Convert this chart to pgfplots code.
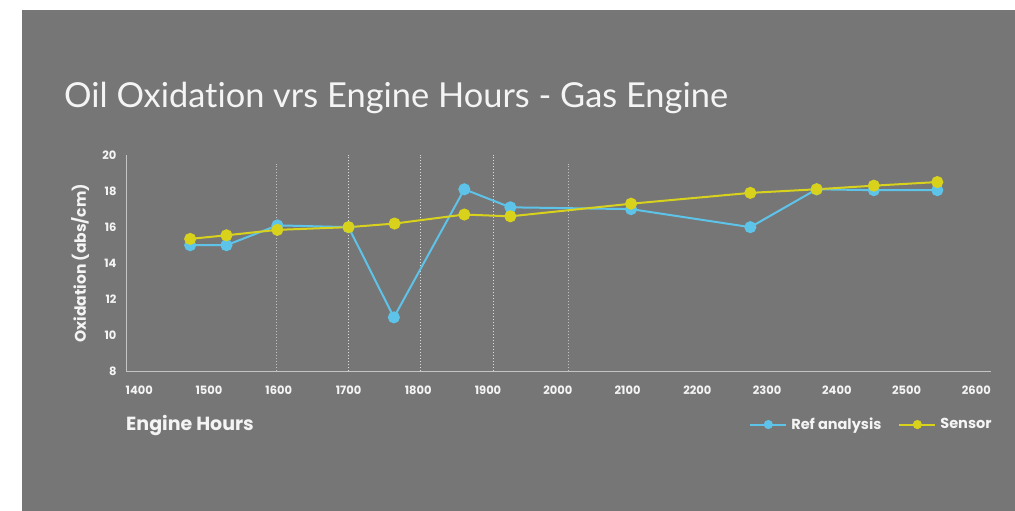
\documentclass[border=0pt]{standalone}
\usepackage{pgfplots}
\pgfplotsset{compat=1.18}
\usepackage{fontspec}
\setmainfont{Lato}[Ligatures=NoCommon]
\newfontfamily\tickfont{Poppins}
\definecolor{bg}{HTML}{767676}
\definecolor{refblue}{HTML}{5EC3E8}
\definecolor{sensyel}{HTML}{D8D21C}
\definecolor{txt}{HTML}{F4F4F4}
\definecolor{axl}{HTML}{C4C4C4}

\begin{document}
\begin{tikzpicture}
  \fill[white] (0pt,0pt) rectangle (1015pt,511pt);
  \fill[bg] (22pt,0pt) rectangle (1015pt,501pt);
  \node[anchor=base west, text=txt, inner sep=0pt, font=\fontsize{34.4}{40}\selectfont] at (64pt,403pt) {Oil Oxidation vrs Engine Hours - Gas Engine};

  \begin{axis}[
    at={(126pt,139.5pt)}, anchor=south west,
    scale only axis, width=865pt, height=216.5pt,
    xmin=1381, xmax=2621, ymin=8, ymax=20,
    xtick={1400,1500,...,2600}, ytick={8,10,...,20},
    axis x line*=bottom, axis y line*=left,
    axis line style={axl, line width=1pt, -},
    major tick length=0pt,
    /pgf/number format/assume math mode=true,
    /pgf/number format/set thousands separator={},
    tick label style={text=txt, font=\tickfont\bfseries\fontsize{11.5}{13}\selectfont},
    xticklabel style={yshift=-11pt},
    yticklabel style={xshift=-6pt},
    ylabel={Oxidation (abs/cm)},
    ylabel style={at={(axis description cs:-0.053,0.5)}, anchor=center, text=txt,
      font=\tickfont\bfseries\fontsize{15.5}{17}\selectfont},
    xlabel={Engine Hours},
    xlabel style={at={(axis description cs:0,-0.25)}, anchor=west, inner sep=0pt, text=txt,
      font=\tickfont\bfseries\fontsize{19}{22}\selectfont},
    legend style={at={(axis description cs:1.002,-0.245)}, anchor=east, draw=none, fill=none,
      text=txt, font=\tickfont\bfseries\fontsize{14.5}{16}\selectfont,
      legend columns=2, column sep=3pt, inner xsep=0pt, nodes={inner xsep=1pt},
      /tikz/every even column/.append style={column sep=16pt}},
    legend image code/.code={\draw[mark repeat=2,mark phase=2,mark size=3.5pt,#1] plot coordinates {(0pt,0pt) (18pt,0pt) (36pt,0pt)};},
    clip=false,
  ]
    \draw[txt!60!bg, dotted, line width=1pt] (axis cs:1597,8) -- (axis cs:1597,19.5);
    \draw[txt!80!bg, dotted, line width=1pt] (axis cs:1700,8) -- (axis cs:1700,20);
    \draw[txt!80!bg, dotted, line width=1pt] (axis cs:1803,8) -- (axis cs:1803,20);
    \draw[txt!80!bg, dotted, line width=1pt] (axis cs:1908,8) -- (axis cs:1908,20);
    \draw[txt!60!bg, dotted, line width=1pt] (axis cs:2015,8) -- (axis cs:2015,19.5);

    \addplot[refblue, line width=2pt, mark=*, mark size=5pt, mark options={fill=refblue, draw=refblue}]
      coordinates {(1473,15.0) (1525,15.0) (1598,16.1) (1700,16.0) (1765,11.0) (1866,18.1)
                   (1932,17.1) (2105,17.0) (2276,16.0) (2371,18.1) (2453,18.05) (2544,18.05)};
    \addlegendentry{Ref analysis}
    \addplot[sensyel, line width=2pt, mark=*, mark size=5pt, mark options={fill=sensyel, draw=sensyel}]
      coordinates {(1473,15.35) (1525,15.55) (1598,15.85) (1700,16.0) (1766,16.2) (1866,16.7)
                   (1932,16.6) (2105,17.3) (2276,17.9) (2371,18.1) (2453,18.3) (2544,18.5)};
    \addlegendentry{Sensor}
  \end{axis}
\end{tikzpicture}
\end{document}
